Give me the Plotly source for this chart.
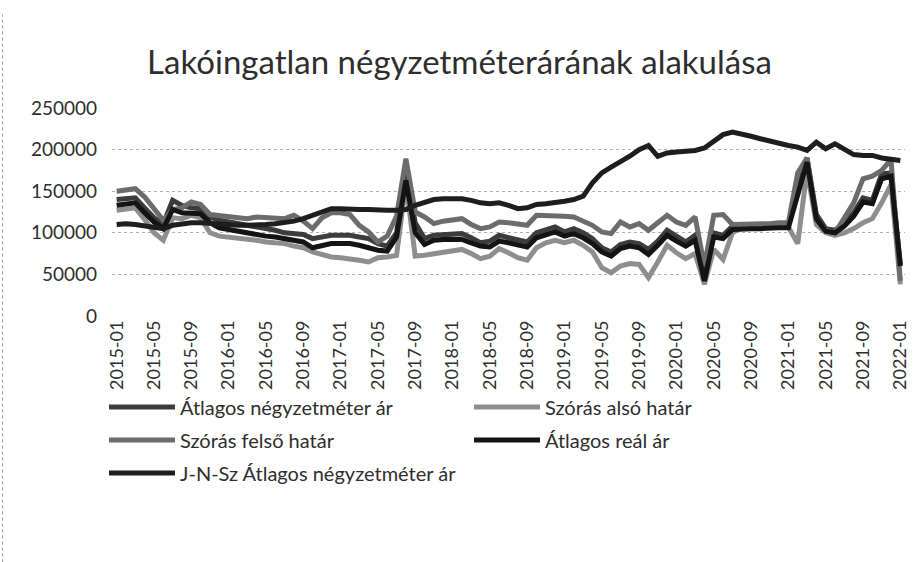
import plotly.graph_objects as go

# Monthly labels, 2015-01 .. 2022-01
months = [f"{y}-{m:02d}" for y in range(2015, 2023) for m in range(1, 13)][:85]
tick_labels = months[::4]

atlagos_ar = [
    140000, 141000, 142000, 130000, 118000, 111000, 139000, 133000, 130000, 129000,
    119000, 115000, 113000, 111000, 110000, 108000, 105000, 103000, 100000, 99000,
    98000, 93000, 95000, 97000, 97000, 97000, 95000, 93000, 87000, 84000,
    100000, 178000, 112000, 93000, 97000, 98000, 99000, 99000, 94000, 88000,
    90000, 97000, 94000, 91000, 89000, 100000, 104000, 107000, 101000, 105000,
    100000, 93000, 82000, 77000, 86000, 89000, 87000, 80000, 90000, 103000,
    96000, 89000, 97000, 45000, 100000, 97000, 108000, 109000, 109000, 109000,
    110000, 110000, 110000, 150000, 190000, 122000, 105000, 103000, 112000, 124000,
    142000, 139000, 171000, 172000, 62000,
]

szoras_also = [
    127000, 128000, 130000, 116000, 100000, 91000, 118000, 117000, 121000, 118000,
    100000, 96000, 95000, 93000, 92000, 91000, 89000, 88000, 87000, 84000,
    82000, 77000, 74000, 71000, 70000, 69000, 67000, 65000, 70000, 71000,
    73000, 160000, 72000, 73000, 75000, 77000, 78000, 80000, 75000, 69000,
    72000, 81000, 76000, 70000, 67000, 82000, 88000, 91000, 88000, 91000,
    85000, 77000, 58000, 52000, 60000, 63000, 62000, 46000, 65000, 85000,
    76000, 69000, 75000, 38000, 80000, 68000, 100000, 106000, 106000, 106000,
    107000, 107000, 107000, 87000, 175000, 110000, 100000, 97000, 100000, 105000,
    112000, 117000, 136000, 158000, 38000,
]

szoras_felso = [
    150000, 151000, 153000, 143000, 128000, 115000, 128000, 130000, 137000, 134000,
    122000, 121000, 120000, 118000, 117000, 119000, 118000, 117000, 117000, 121000,
    114000, 105000, 118000, 124000, 124000, 122000, 109000, 101000, 89000, 96000,
    120000, 189000, 125000, 119000, 111000, 114000, 115000, 117000, 110000, 105000,
    107000, 113000, 112000, 111000, 109000, 121000, 121000, 121000, 120000, 119000,
    114000, 109000, 101000, 99000, 113000, 107000, 111000, 103000, 112000, 121000,
    113000, 109000, 119000, 60000, 121000, 122000, 110000, 110000, 110000, 110000,
    111000, 112000, 112000, 172000, 190000, 115000, 103000, 100000, 118000, 136000,
    165000, 168000, 175000, 188000, 42000,
]

atlagos_real = [
    133000, 134000, 136000, 124000, 113000, 105000, 128000, 124000, 124000, 123000,
    112000, 106000, 104000, 102000, 100000, 97000, 96000, 95000, 93000, 91000,
    89000, 82000, 85000, 87000, 87000, 87000, 85000, 82000, 79000, 78000,
    95000, 163000, 100000, 86000, 91000, 92000, 92000, 92000, 88000, 84000,
    83000, 90000, 88000, 85000, 83000, 94000, 98000, 101000, 96000, 99000,
    94000, 87000, 77000, 72000, 81000, 84000, 82000, 74000, 85000, 97000,
    90000, 84000, 91000, 42000, 95000, 93000, 104000, 105000, 105000, 105000,
    106000, 106000, 106000, 145000, 185000, 117000, 102000, 100000, 108000, 120000,
    137000, 135000, 165000, 168000, 60000,
]

jnsz_atlagos = [
    110000, 111000, 110000, 108000, 106000, 105000, 109000, 111000, 112000, 112000,
    111000, 110000, 110000, 109000, 109000, 109000, 110000, 111000, 112000, 114000,
    117000, 121000, 125000, 129000, 129000, 128000, 128000, 128000, 127000, 127000,
    127000, 128000, 133000, 136000, 140000, 141000, 141000, 141000, 139000, 136000,
    135000, 136000, 133000, 129000, 130000, 134000, 135000, 136000, 138000, 140000,
    144000, 160000, 172000, 179000, 185000, 192000, 200000, 205000, 192000, 196000,
    197000, 198000, 199000, 202000, 210000, 218000, 221000, 219000, 216000, 213000,
    210000, 207000, 205000, 203000, 199000, 209000, 201000, 207000, 200000, 194000,
    193000, 193000, 190000, 188000, 187000,
]

series = [
    ("Átlagos négyzetméter ár", atlagos_ar, "#3c3c3c", "legend"),
    ("Szórás alsó határ", szoras_also, "#8e8e8e", "legend2"),
    ("Szórás felső határ", szoras_felso, "#6c6c6c", "legend3"),
    ("Átlagos reál ár", atlagos_real, "#141414", "legend4"),
    ("J-N-Sz Átlagos négyzetméter ár", jnsz_atlagos, "#1e1e1e", "legend5"),
]

FONT = "Lato"
TXT = "#2e2e2e"

fig = go.Figure()
for name, vals, color, leg in series:
    fig.add_trace(go.Scatter(
        x=months, y=vals, name=name, mode="lines",
        line=dict(color=color, width=5),
        legend=leg, showlegend=True,
    ))

W, H = 919, 562


def legend_box(px, py):
    return dict(
        x=px / W, y=1 - py / H, xref="container", yref="container",
        xanchor="left", yanchor="middle",
        font=dict(family=FONT, size=20, color=TXT),
        bgcolor="rgba(0,0,0,0)", itemwidth=66, visible=True,
    )


fig.update_layout(
    width=W, height=H, autosize=False, showlegend=True,
    margin=dict(l=112, r=14, t=108, b=246, autoexpand=False),
    paper_bgcolor="white", plot_bgcolor="white",
    title=dict(
        text="Lakóingatlan négyzetméterárának alakulása",
        x=0.5, xref="container", xanchor="center",
        y=1 - 62 / H, yref="container", yanchor="middle",
        font=dict(family=FONT, size=33, color=TXT),
    ),
    xaxis=dict(
        type="category", range=[-0.5, 84.5],
        tickmode="array", tickvals=tick_labels, ticktext=tick_labels,
        tickangle=-90, showgrid=False, showline=False, zeroline=False,
        ticks="", tickfont=dict(family=FONT, size=18, color=TXT),
        automargin=False,
    ),
    yaxis=dict(
        range=[0, 250000], tickvals=[0, 50000, 100000, 150000, 200000, 250000],
        tickformat="d", showgrid=True, gridcolor="#b0b0b0", griddash="dot",
        gridwidth=1, zeroline=False, showline=False, ticks="",
        ticklabelstandoff=14, automargin=False,
        tickfont=dict(family=FONT, size=19, color=TXT),
    ),
    legend=legend_box(104, 407),
    legend2=legend_box(469, 407),
    legend3=legend_box(104, 440),
    legend4=legend_box(469, 440),
    legend5=legend_box(104, 473),
    shapes=[
        dict(type="line", xref="paper", yref="paper",
             x0=-0.138, x1=-0.138, y0=-1.185, y1=1.45,
             line=dict(color="#9a9a9a", width=1, dash="dot")),
    ],
)

fig.write_html("out.html")
